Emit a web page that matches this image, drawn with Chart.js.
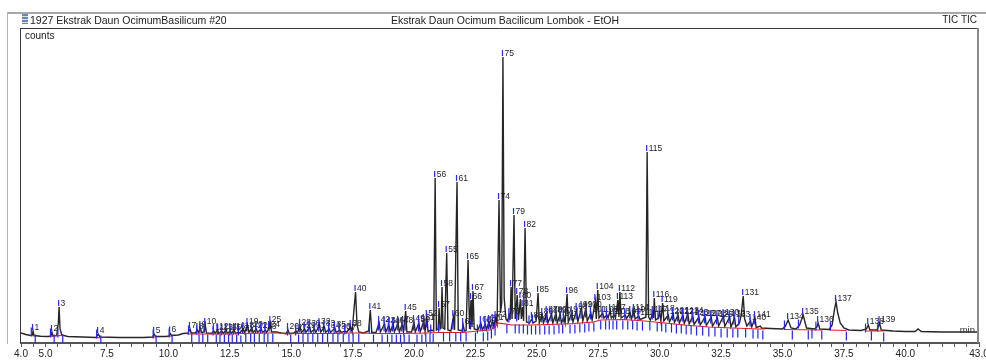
<!DOCTYPE html>
<html>
<head>
<meta charset="utf-8">
<script src="https://cdn.jsdelivr.net/npm/chart.js@4.4.1/dist/chart.umd.min.js"></script>
<style>
  html, body { margin:0; padding:0; background:#fff; }
  #wrap { position:relative; width:986px; height:360px; overflow:hidden; background:#fff; }
  #c { position:absolute; left:0; top:0; }
  .abs { position:absolute; }
  .txt { font-family:"Liberation Sans", Arial, sans-serif; color:#222; white-space:nowrap; }
</style>
</head>
<body>
<div id="wrap">
  <canvas id="c" width="986" height="360"></canvas>
  <div class="abs" style="left:7px;top:12px;width:979px;height:2px;background:#a8a8a8"></div>
  <div class="abs" style="left:7px;top:12px;width:1px;height:332px;background:#b4b4b4"></div>
  <div class="abs" style="left:22px;top:14px;width:6px;height:10px;background:repeating-linear-gradient(180deg,#6a86b8 0 2px,#d8e2f2 2px 3px)"></div>
  <div class="abs txt" id="hdrLeft" style="left:30px;top:13px;font-size:10.5px;line-height:14px"></div>
  <div class="abs txt" id="hdrCenter" style="left:505px;top:13px;font-size:10.5px;line-height:14px;transform:translateX(-50%)"></div>
  <div class="abs txt" id="hdrRight" style="right:9px;top:13px;font-size:10px;line-height:14px"></div>
  <div class="abs txt" id="yTitle" style="left:25px;top:30px;font-size:10px;line-height:12px"></div>
</div>
<script>
// ---------------- data ----------------
const headerLeft = "1927 Ekstrak Daun OcimumBasilicum #20";
const headerCenter = "Ekstrak Daun Ocimum Bacilicum Lombok - EtOH";
const headerRight = "TIC TIC";
const yAxisTitle = "counts";
const xUnit = "min";

const tickValues = [4, 5, 7.5, 10, 12.5, 15, 17.5, 20, 22.5, 25, 27.5, 30, 32.5, 35, 37.5, 40, 43];
const tickLabels = ["4.0","5.0","7.5","10.0","12.5","15.0","17.5","20.0","22.5","25.0","27.5","30.0","32.5","35.0","37.5","40.0","43.0"];

// TIC trace: [retention time (min), counts (relative units)]
const trace = [
[4.00,10],[4.20,8.5],[4.40,7.5],[4.46,8],[4.49,12],[4.53,7.5],[4.80,6.8],[5.10,6.5],[5.22,7],[5.26,11],[5.30,7],[5.45,7.5],[5.52,20],[5.55,36],[5.59,14],[5.66,8],[5.90,6.5],[6.50,6],[7.05,5.5],[7.14,9],[7.22,6],[8.00,5.5],[9.00,5.5],[9.36,6],[9.42,9],[9.48,6.5],[9.90,6.5],[10.03,7],[10.07,9.5],[10.13,7.5],[10.40,8],[10.60,9.5],[10.80,10],[10.88,14],[10.93,10],[11.10,10],[11.18,13],[11.22,10.5],[11.30,15],[11.35,10.5],[11.46,11],[11.50,18],[11.55,10],[11.75,9.5],[11.85,12],[11.90,9.5],[12.00,13],[12.05,9.5],[12.18,12],[12.23,9.5],[12.35,13],[12.40,9.5],[12.52,12],[12.56,9.5],[12.68,13],[12.73,9.5],[12.85,11],[12.90,9.8],[13.05,14],[13.10,10],[13.22,18],[13.28,10.5],[13.40,15],[13.45,10.5],[13.58,14],[13.63,10.5],[13.78,14],[13.83,10.5],[13.95,13],[14.00,10.5],[14.10,15],[14.15,20],[14.20,11],[14.40,11],[14.60,10],[14.80,9.5],[14.87,13],[14.92,9.5],[15.10,10],[15.20,12],[15.25,10],[15.36,17],[15.41,10.5],[15.55,14],[15.60,10.5],[15.75,16],[15.80,10.5],[15.95,14],[16.00,10.5],[16.15,18],[16.20,11],[16.35,16],[16.40,10.5],[16.55,14],[16.60,10.5],[16.78,15],[16.83,10.5],[16.98,13],[17.03,10.5],[17.20,12],[17.25,10.5],[17.42,16],[17.48,11],[17.56,35],[17.62,51],[17.68,18],[17.75,11],[17.95,10],[18.15,12],[18.22,33],[18.28,10.5],[18.45,10.5],[18.58,20],[18.63,11],[18.80,19],[18.85,11],[18.98,18],[19.03,11],[19.15,19],[19.20,11],[19.35,20],[19.40,11],[19.52,19],[19.57,11],[19.66,32],[19.71,11],[19.90,11],[20.00,21],[20.05,11],[20.20,20],[20.25,11],[20.40,22],[20.45,11.5],[20.52,26],[20.57,11.5],[20.70,13],[20.80,12],[20.86,165],[20.91,13],[20.98,14],[21.02,35],[21.06,14],[21.10,15],[21.14,56],[21.18,15],[21.25,14],[21.33,90],[21.38,13],[21.50,12],[21.60,26],[21.65,13],[21.75,161],[21.80,13],[21.95,12],[22.00,18],[22.05,12],[22.12,12.5],[22.20,83],[22.26,14],[22.32,43],[22.36,16],[22.40,52],[22.45,14],[22.60,13],[22.72,20],[22.78,13],[22.90,19],[22.95,13.5],[23.05,21],[23.10,15],[23.20,22],[23.25,16],[23.32,25],[23.38,19],[23.46,143],[23.52,30],[23.57,40],[23.62,286],[23.67,45],[23.74,24],[23.80,22],[23.88,28],[23.91,23],[23.95,56],[23.99,24],[24.07,128],[24.12,24],[24.20,48],[24.25,23],[24.33,44],[24.37,24],[24.42,36],[24.46,22],[24.52,115],[24.58,21],[24.70,20],[24.80,24],[24.85,20],[24.97,22],[25.05,50],[25.10,20],[25.22,28],[25.27,20],[25.40,30],[25.45,20],[25.60,29],[25.65,20],[25.78,30],[25.83,20],[25.95,29],[26.00,20],[26.10,26],[26.15,20],[26.23,49],[26.28,21],[26.42,30],[26.47,21],[26.62,33],[26.67,21.5],[26.82,35],[26.87,22],[27.00,35],[27.05,22],[27.20,30],[27.25,23],[27.38,42],[27.42,24],[27.48,53],[27.53,25],[27.68,30],[27.73,25],[27.85,28],[27.90,25],[27.98,32],[28.03,25],[28.15,28],[28.20,25],[28.30,43],[28.34,26],[28.38,51],[28.43,25],[28.60,28],[28.65,24.5],[28.80,30],[28.85,24],[28.95,32],[29.00,24],[29.15,27],[29.20,23.5],[29.35,25],[29.44,26],[29.49,191],[29.55,26],[29.62,23],[29.72,30],[29.75,25],[29.78,45],[29.83,23],[29.95,25],[30.00,31],[30.05,22],[30.12,40],[30.17,22],[30.35,28],[30.40,21],[30.55,29],[30.60,20.5],[30.75,28],[30.80,20],[30.95,28],[31.00,19.5],[31.15,29],[31.20,19],[31.35,27],[31.40,18.5],[31.60,26],[31.65,18],[31.85,26],[31.90,17.5],[32.10,26],[32.15,17],[32.35,25],[32.40,17],[32.60,27],[32.65,16.5],[32.85,26],[32.90,16],[33.05,25],[33.10,16],[33.25,20],[33.32,28],[33.40,47],[33.46,24],[33.55,17],[33.70,22],[33.75,16],[33.88,25],[33.93,15.5],[34.10,17],[34.15,15],[34.50,14.5],[35.00,14],[35.12,17],[35.23,23],[35.35,15],[35.55,14],[35.70,18],[35.84,28],[35.98,15],[36.30,14],[36.40,16],[36.45,20],[36.52,14],[36.90,13.5],[37.02,18],[37.12,34],[37.18,41],[37.25,30],[37.35,20],[37.50,15],[37.70,13],[38.20,12.5],[38.42,14],[38.49,18],[38.56,13],[38.85,13],[38.95,20],[39.02,13],[39.50,12],[40.00,11.5],[40.40,11.5],[40.52,14],[40.65,11.5],[41.50,11],[42.30,11],[43.00,11]
];

// integration baseline (red); null = no baseline drawn
const baseline = [
[4.40,7.5],[4.60,7],[4.61,null],[5.18,6.8],[5.70,7.5],[5.71,null],[7.05,5.3],[7.25,5.3],[7.26,null],[9.35,5.8],[9.50,6],[9.51,null],[10.00,6.8],[10.15,7],[10.16,null],
[10.75,9],[11.60,9],[12.50,9],[13.00,9.5],[14.00,10],[14.50,10],[14.80,9],[15.30,9.5],[16.50,9.5],[17.40,10],[17.80,10],[18.50,9.5],[19.50,9.5],[20.50,10],[21.00,10.5],[22.00,10.5],[22.60,12],[23.10,13],[23.30,16],[23.40,20],[24.00,18],[24.70,18],[25.50,18.5],[26.50,19.5],[27.30,21],[27.60,23],[28.50,23.5],[29.40,22],[30.00,20.5],[31.00,18],[32.00,16],[33.00,15],[34.00,14],[34.30,14],[34.31,null],
[35.05,13.5],[36.60,13],[36.61,null],[36.90,13],[37.60,12.5],[37.61,null],[38.35,12],[39.15,12]
];

// peak start / end markers (blue ticks): [time, counts]
const markers = [
[4.42,11],[4.58,4],[5.20,10],[5.35,4],[5.50,10],[5.70,4],[7.08,9],[7.25,3],[9.38,9],[9.50,3],[10.03,10],[10.15,4],
[10.82,13],[10.95,5],[11.15,13],[11.25,4],[11.28,14],[11.40,5],[11.45,15],[11.60,4],[11.82,12],[11.95,4],[12.00,13],[12.10,4],[12.15,12],[12.28,4],[12.32,13],[12.45,4],[12.50,12],[12.60,4],[12.65,13],[12.78,4],[12.85,12],[12.95,3],[13.02,14],[13.15,5],[13.20,16],[13.35,5],[13.38,15],[13.50,5],[13.55,14],[13.70,5],[13.75,14],[13.90,5],[13.93,13],[14.05,5],[14.10,16],[14.25,5],[14.85,12],[14.98,4],[15.18,12],[15.30,4],[15.33,15],[15.48,5],[15.52,14],[15.68,5],[15.72,15],[15.88,5],[15.92,14],[16.08,5],[16.12,16],[16.28,5],[16.32,15],[16.48,5],[16.52,14],[16.70,5],[16.75,14],[16.90,5],[16.95,13],[17.12,5],[17.18,13],[17.35,5],[17.40,15],[17.52,5],
[17.75,5],[18.18,14],[18.35,4],[18.55,17],[18.70,4],[18.78,16],[18.92,4],[18.95,15],[19.10,4],[19.12,16],[19.28,4],[19.32,17],[19.45,4],[19.50,16],[19.60,4],[19.64,17],[19.80,4],[19.98,17],[20.12,4],[20.18,16],[20.32,4],[20.38,18],[20.48,5],[20.50,20],[20.65,5],[20.68,14],[20.78,5],
[21.00,15],[21.20,6],[21.45,6],[21.58,18],[21.70,6],[21.90,6],[21.98,15],[22.12,6],[22.30,18],[22.50,6],[22.58,14],[22.70,17],[22.82,6],[22.88,17],[23.00,7],[23.03,18],[23.15,9],[23.18,19],[23.30,12],[23.30,22],
[23.78,14],[23.86,25],[24.12,14],[24.18,26],[24.28,14],[24.45,14],[24.62,13],[24.68,23],[24.78,13],[24.82,24],[24.95,13],[25.12,13],[25.20,25],[25.32,13],[25.38,25],[25.50,13],[25.58,26],[25.70,13],[25.76,26],[25.90,14],[25.93,26],[26.05,14],[26.08,25],[26.35,14],[26.40,27],[26.55,14],[26.60,28],[26.75,15],[26.80,29],[26.95,15],[26.98,30],[27.12,16],[27.18,28],[27.32,16],[27.60,18],[27.65,29],[27.80,18],[27.83,28],[27.95,18],[28.10,18],[28.12,28],[28.25,18],[28.50,18],[28.58,28],[28.70,18],[28.78,29],[28.90,18],[28.92,30],[29.08,17],[29.12,27],[29.30,17],[29.60,17],[29.70,28],[29.90,16],[29.93,28],[30.08,16],[30.25,15],[30.32,27],[30.48,15],[30.52,27],[30.68,14],[30.72,26],[30.88,14],[30.92,26],[31.08,13],[31.12,26],[31.28,13],[31.32,25],[31.50,12],[31.58,24],[31.75,12],[31.82,24],[32.00,11],[32.08,24],[32.25,11],[32.32,23],[32.50,10],[32.58,25],[32.75,10],[32.82,24],[32.98,10],[33.02,23],[33.18,10],[33.22,22],[33.50,10],[33.68,21],[33.80,9],[33.85,23],[34.00,9],[34.20,8],
[35.08,18],[35.40,8],[35.65,19],[36.05,8],[36.20,9],[36.36,17],[36.60,8],[36.95,17],[37.60,7],[38.38,15],[38.62,7],[38.88,16],[39.12,6]
];

// labelled peaks
const peakIds = [1,2,3,4,5,6,7,8,9,10,11,12,13,14,15,16,17,18,19,20,21,22,23,24,25,26,27,28,29,30,31,32,33,34,35,36,37,38,40,41,42,43,44,46,47,48,45,49,50,51,52,56,57,58,55,60,61,62,65,66,67,68,69,70,71,72,74,75,76,77,79,78,80,81,82,83,84,85,86,87,88,89,90,91,96,97,98,99,100,101,103,104,105,106,107,108,113,112,109,110,114,111,115,117,116,118,119,120,121,122,123,124,125,126,127,128,129,130,132,133,131,140,141,134,135,136,137,138,139];
const peakTimes = [4.49,5.26,5.55,7.14,9.42,10.07,10.88,11.18,11.30,11.50,11.85,12.00,12.18,12.35,12.52,12.68,12.85,13.05,13.22,13.40,13.58,13.78,13.95,14.10,14.15,14.87,15.20,15.36,15.55,15.75,15.95,16.15,16.35,16.55,16.78,16.98,17.20,17.42,17.62,18.22,18.58,18.80,18.98,19.15,19.35,19.52,19.66,20.00,20.20,20.40,20.52,20.86,21.02,21.14,21.33,21.60,21.75,22.00,22.20,22.32,22.40,22.72,22.90,23.05,23.20,23.32,23.46,23.62,23.88,23.95,24.07,24.20,24.33,24.42,24.52,24.80,24.97,25.05,25.22,25.40,25.60,25.78,25.95,26.10,26.23,26.42,26.62,26.82,27.00,27.20,27.38,27.48,27.68,27.85,27.98,28.15,28.30,28.38,28.60,28.80,28.95,29.15,29.49,29.72,29.78,30.00,30.12,30.35,30.55,30.75,30.95,31.15,31.35,31.60,31.85,32.10,32.35,32.60,32.85,33.05,33.40,33.70,33.88,35.23,35.84,36.45,37.18,38.49,38.95];
const peakHeights = [12,11,36,9,9,9.5,14,13,15,18,12,13,12,13,12,13,11,14,18,15,14,14,13,15,20,13,12,17,14,16,14,18,16,14,15,13,12,16,51,33,20,19,18,19,20,19,32,21,20,22,26,165,35,56,90,26,161,18,83,43,52,20,19,21,22,25,143,286,28,56,128,48,44,36,115,24,22,50,28,30,29,30,29,26,49,30,33,35,35,30,42,53,30,28,32,28,43,51,28,30,32,27,191,30,45,31,40,28,29,28,28,29,27,26,26,26,25,27,26,25,47,22,25,23,28,20,41,18,20];

// ---------------- rendering ----------------
document.getElementById('hdrLeft').textContent = headerLeft;
document.getElementById('hdrCenter').textContent = headerCenter;
document.getElementById('hdrRight').textContent = headerRight;
document.getElementById('yTitle').textContent = yAxisTitle;

const toXY = arr => arr.map(p => ({x: p[0], y: p[1]}));

const framePlugin = {
  id: 'frame',
  afterDraw(chart) {
    const {ctx, chartArea: a} = chart;
    ctx.save();
    ctx.strokeStyle = '#3a3a3a';
    ctx.lineWidth = 1;
    ctx.beginPath();
    ctx.moveTo(a.left - 1, a.top + 0.5);
    ctx.lineTo(a.right, a.top + 0.5);
    ctx.moveTo(a.left - 0.5, a.top);
    ctx.lineTo(a.left - 0.5, a.bottom);
    ctx.stroke();
    ctx.strokeStyle = '#8a8a8a';
    ctx.lineWidth = 2;
    ctx.beginPath();
    ctx.moveTo(a.right - 1, a.top);
    ctx.lineTo(a.right - 1, a.bottom);
    ctx.stroke();
    ctx.fillStyle = '#333';
    ctx.font = '9.5px "Liberation Sans", Arial, sans-serif';
    ctx.textAlign = 'right';
    ctx.textBaseline = 'alphabetic';
    ctx.fillText(xUnit, a.right - 4, a.bottom - 10);
    ctx.restore();
  }
};

const peakLabelPlugin = {
  id: 'peakLabels',
  afterDatasetsDraw(chart) {
    const {ctx, scales: {x, y}} = chart;
    ctx.save();
    ctx.font = '8.5px "Liberation Sans", Arial, sans-serif';
    ctx.textAlign = 'left';
    ctx.textBaseline = 'alphabetic';
    for (let i = 0; i < peakIds.length; i++) {
      const px = x.getPixelForValue(peakTimes[i]);
      const py = y.getPixelForValue(peakHeights[i]);
      ctx.strokeStyle = '#2b2bff';
      ctx.lineWidth = 1.2;
      ctx.beginPath();
      ctx.moveTo(px - 0.5, py - 1);
      ctx.lineTo(px - 0.5, py - 7);
      ctx.stroke();
      ctx.fillStyle = '#1e1e1e';
      ctx.fillText(String(peakIds[i]), px + 1.5, py - 1.5);
    }
    ctx.restore();
  }
};

new Chart(document.getElementById('c'), {
  type: 'line',
  data: {
    datasets: [
      {
        label: 'markers',
        data: toXY(markers),
        showLine: false,
        pointStyle: 'line',
        pointRotation: 90,
        pointRadius: 4.5,
        pointBorderWidth: 1.2,
        pointBorderColor: '#2323ff',
        pointBackgroundColor: '#2323ff'
      },
      {
        label: 'baseline',
        data: toXY(baseline),
        borderColor: '#ec1c1c',
        borderWidth: 1.2,
        pointRadius: 0,
        spanGaps: false,
        tension: 0
      },
      {
        label: 'TIC',
        data: toXY(trace),
        borderColor: '#262626',
        borderWidth: 1.4,
        pointRadius: 0,
        tension: 0
      }
    ]
  },
  options: {
    responsive: false,
    animation: false,
    events: [],
    layout: { padding: { left: 21, right: 7, top: 28, bottom: 0 } },
    plugins: { legend: { display: false }, tooltip: { enabled: false } },
    scales: {
      x: {
        type: 'linear',
        position: 'bottom',
        min: 4,
        max: 43,
        ticks: {
          stepSize: 0.5,
          autoSkip: false,
          maxRotation: 0,
          minRotation: 0,
          padding: 1,
          color: '#222',
          font: { family: '"Liberation Sans", Arial, sans-serif', size: 10 },
          callback: (v) => {
            const i = tickValues.findIndex(t => Math.abs(t - v) < 1e-6);
            return i >= 0 ? tickLabels[i] : '';
          }
        },
        grid: { display: true, drawOnChartArea: false, drawTicks: true, tickLength: 4, color: '#555', lineWidth: 1 },
        border: { display: true, color: '#555', width: 2 },
        afterFit: (s) => { s.height = 17; s.paddingLeft = 0; s.paddingRight = 0; }
      },
      y: { display: false, min: 0, max: 315 }
    }
  },
  plugins: [framePlugin, peakLabelPlugin]
});
</script>
</body>
</html>
